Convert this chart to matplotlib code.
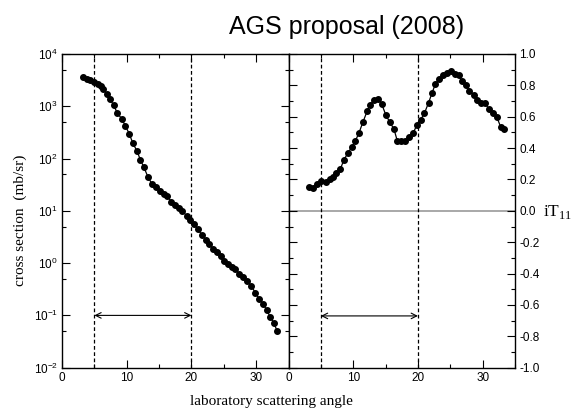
import numpy as np
import matplotlib
matplotlib.use('Agg')
import matplotlib.pyplot as plt
from matplotlib.ticker import MultipleLocator, FixedLocator, NullFormatter, LogFormatterSciNotation

plt.rcParams['font.family'] = ['Liberation Sans', 'DejaVu Sans']
plt.rcParams['axes.unicode_minus'] = False

# cross section (mb/sr) vs laboratory angle
cs_angle = [3.2, 3.8, 4.4, 4.95, 5.5, 6.0, 6.4, 6.9, 7.4, 8.0, 8.5, 9.2, 9.8, 10.4,
            10.95, 11.55, 12.1, 12.65, 13.3, 13.9, 14.5, 15.1, 15.75, 16.25, 16.9,
            17.5, 18.1, 18.6, 19.25, 19.85, 20.4, 20.95, 21.65, 22.25, 22.75, 23.35,
            23.9, 24.5, 25.0, 25.6, 26.25, 26.75, 27.4, 28.0, 28.6, 29.25, 29.85,
            30.45, 31.1, 31.6, 32.2, 32.75, 33.25]
cs_value = [3580, 3370, 3180, 2920, 2690, 2400, 2110, 1720, 1360, 1045, 755, 580,
            420, 295, 196, 142, 95.5, 68, 43.9, 32.7, 28.2, 24.3, 21.0, 19.3, 14.8,
            13.0, 11.4, 10.1, 7.98, 6.70, 5.62, 4.45, 3.46, 2.78, 2.33, 1.89, 1.64,
            1.37, 1.08, 0.975, 0.857, 0.783, 0.621, 0.537, 0.462, 0.366, 0.273,
            0.209, 0.166, 0.127, 0.0923, 0.0710, 0.0499]

# analysing power iT11 vs laboratory angle
it_angle = [3.15, 3.77, 4.39, 5.0, 5.85, 6.45, 6.87, 7.4, 8.0, 8.55, 9.15, 9.75, 10.3,
            10.9, 11.5, 12.15, 12.65, 13.2, 13.9, 14.4, 15.05, 15.65, 16.3, 16.8,
            17.35, 18.0, 18.65, 19.3, 19.8, 20.4, 21.0, 21.65, 22.2, 22.7, 23.3, 23.8,
            24.45, 25.05, 25.7, 26.3, 26.8, 27.35, 27.95, 28.6, 29.2, 29.8, 30.4,
            30.95, 31.6, 32.2, 32.8, 33.35]
it_value = [0.154, 0.146, 0.171, 0.188, 0.184, 0.201, 0.214, 0.243, 0.265, 0.324,
            0.367, 0.405, 0.443, 0.498, 0.566, 0.635, 0.677, 0.707, 0.711, 0.681,
            0.609, 0.566, 0.520, 0.447, 0.443, 0.443, 0.473, 0.498, 0.545, 0.579,
            0.622, 0.690, 0.754, 0.809, 0.843, 0.864, 0.881, 0.894, 0.872, 0.864,
            0.830, 0.805, 0.766, 0.741, 0.707, 0.690, 0.686, 0.647, 0.622, 0.596,
            0.533, 0.520]

window = [5, 20]

fig = plt.figure(figsize=(5.72, 4.08), dpi=100)
ax1 = fig.add_axes([0.1084, 0.0988, 0.396, 0.769])
ax2 = fig.add_axes([0.5044, 0.0988, 0.396, 0.769])

for ax in (ax1, ax2):
    ax.set_xlim(0, 35)
    ax.xaxis.set_major_locator(MultipleLocator(10))
    ax.xaxis.set_minor_locator(MultipleLocator(5))
    ax.tick_params(which='both', direction='in', top=True, right=True, left=True,
                   labelsize=8.5, width=0.8, pad=3)
    ax.tick_params(which='major', length=5.5)
    ax.tick_params(which='minor', length=2.7)
    for s in ax.spines.values():
        s.set_linewidth(1.0)
    for w in window:
        ax.axvline(w, color='black', lw=0.9, ls=(0, (3, 2)))

# left: cross section
ax1.set_yscale('log')
ax1.set_ylim(1e-2, 1e4)
ax1.yaxis.set_major_locator(FixedLocator([10.0**k for k in range(-2, 5)]))
ax1.yaxis.set_major_formatter(LogFormatterSciNotation())
ax1.yaxis.set_minor_locator(FixedLocator([5 * 10.0**k for k in range(-2, 4)]))
ax1.yaxis.set_minor_formatter(NullFormatter())
ax1.plot(cs_angle, cs_value, color='black', lw=0.9, marker='o', ms=4)
ax1.annotate('', xy=(window[1], 0.1), xytext=(window[0], 0.1),
             arrowprops=dict(arrowstyle='<->', lw=0.8, color='black', shrinkA=0, shrinkB=0))

# right: iT11
ax2.set_ylim(-1.0, 1.0)
ax2.yaxis.set_major_locator(MultipleLocator(0.2))
ax2.yaxis.set_minor_locator(MultipleLocator(0.1))
ax2.yaxis.set_major_formatter(plt.FuncFormatter(lambda v, p: '%.1f' % (0.0 if abs(v) < 1e-9 else v)))
ax2.tick_params(which='both', labelleft=False, labelright=True)
ax2.axhline(0, color='#999999', lw=1.2, zorder=1)
ax2.plot(it_angle, it_value, color='black', lw=0.9, marker='o', ms=4)
ax2.annotate('', xy=(window[1], -0.67), xytext=(window[0], -0.67),
             arrowprops=dict(arrowstyle='<->', lw=0.8, color='black', shrinkA=0, shrinkB=0))

serif = ['Liberation Serif', 'DejaVu Serif']
fig.text(20 / 572, 1 - 220 / 408, 'cross section  (mb/sr)', rotation=90,
         ha='center', va='center', fontsize=11, family=serif)
fig.text(271 / 572, 1 - 401 / 408, 'laboratory scattering angle',
         ha='center', va='center', fontsize=11, family=serif)
fig.text(543 / 572, 1 - 212 / 408, r'iT$_\mathregular{11}$',
         ha='left', va='center', fontsize=12.5, family=serif)
fig.text(347 / 572, 1 - 27 / 408, 'AGS proposal (2008)',
         ha='center', va='center', fontsize=18)

fig.savefig('out.png', dpi=100)
